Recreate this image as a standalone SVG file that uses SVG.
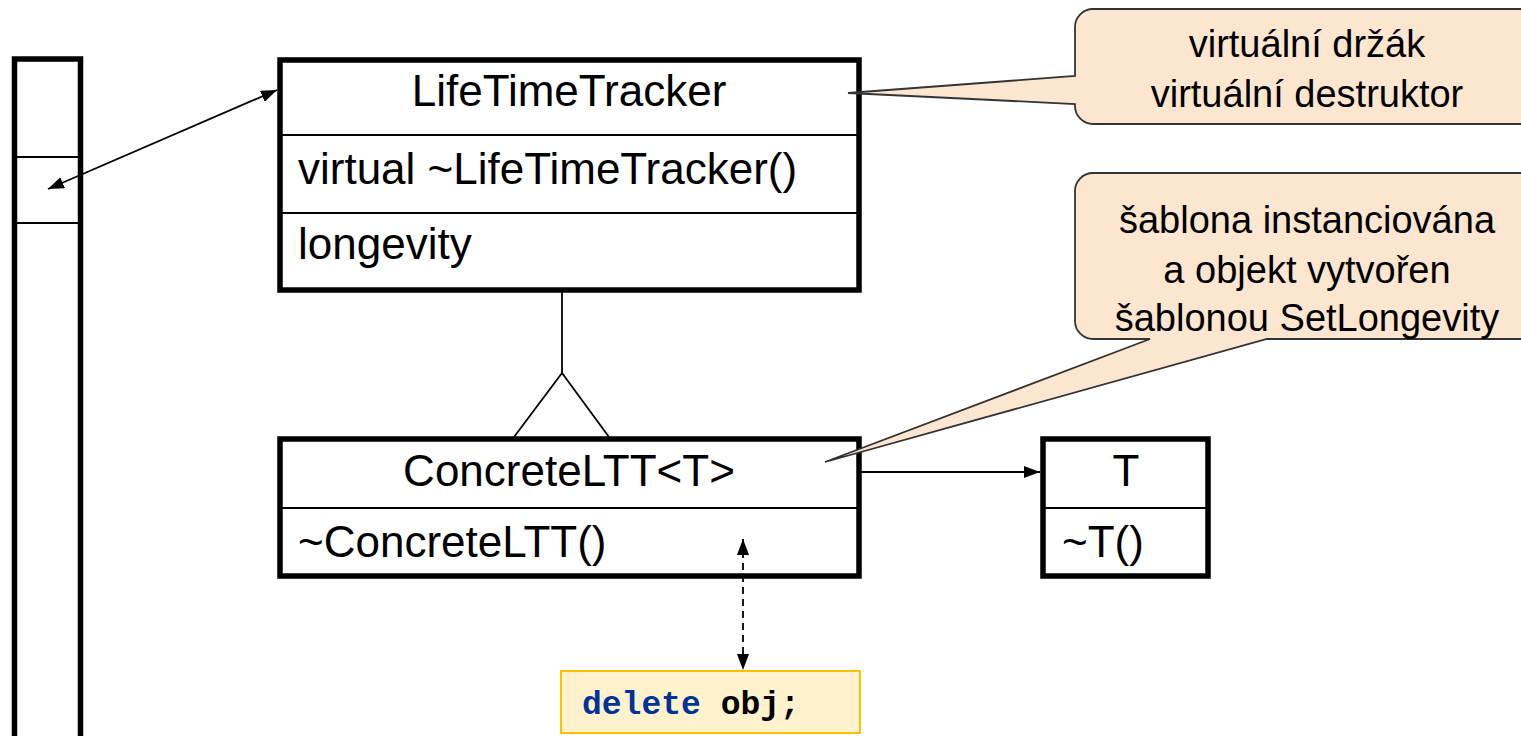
<svg xmlns="http://www.w3.org/2000/svg" width="1521" height="736" viewBox="0 0 1521 736">
  <style>
    .box { fill: #ffffff; stroke: #000000; stroke-width: 5.5; }
    .div { stroke: #000000; stroke-width: 2; }
    .thin { fill: none; stroke: #000000; stroke-width: 1.8; }
    .lbl { font-family: "Liberation Sans", Arial, sans-serif; font-size: 44px; fill: #000000; }
    .note { fill: #fde6cf; stroke: #333333; stroke-width: 1.8; }
    .ntxt { font-family: "Liberation Sans", Arial, sans-serif; font-size: 38px; fill: #000000; text-anchor: middle; }
    .code { font-family: "Liberation Mono", "Courier New", monospace; font-size: 33px; font-weight: bold; }
  </style>
  <defs>
    <marker id="arrow" viewBox="0 0 16 12" refX="16" refY="6" markerWidth="16" markerHeight="12" markerUnits="userSpaceOnUse" orient="auto-start-reverse">
      <path d="M0,0 L16,6 L0,12 Z" fill="#000000"/>
    </marker>
  </defs>

  <rect width="1521" height="736" fill="#ffffff"/>

  <!-- stack of pointers -->
  <g id="stack">
    <rect x="14.5" y="59" width="66" height="700" class="box"/>
    <line x1="17" y1="157" x2="78" y2="157" class="div"/>
    <line x1="17" y1="223" x2="78" y2="223" class="div"/>
  </g>

  <!-- classes -->
  <g id="lifetimetracker">
    <rect x="280" y="60" width="579" height="230" class="box"/>
    <line x1="282" y1="135" x2="857" y2="135" class="div"/>
    <line x1="282" y1="213" x2="857" y2="213" class="div"/>
    <text class="lbl" x="569" y="106" text-anchor="middle">LifeTimeTracker</text>
    <text class="lbl" x="298" y="184">virtual ~LifeTimeTracker()</text>
    <text class="lbl" x="298" y="259">longevity</text>
  </g>

  <g id="concreteltt">
    <rect x="280" y="439" width="579" height="137" class="box"/>
    <line x1="282" y1="508" x2="857" y2="508" class="div"/>
    <text class="lbl" x="569" y="486" text-anchor="middle">ConcreteLTT&lt;T&gt;</text>
    <text class="lbl" x="298" y="557">~ConcreteLTT()</text>
  </g>

  <g id="t-class">
    <rect x="1043" y="439" width="165" height="137" class="box"/>
    <line x1="1045" y1="508" x2="1206" y2="508" class="div"/>
    <text class="lbl" x="1126" y="486" text-anchor="middle">T</text>
    <text class="lbl" x="1062" y="557">~T()</text>
  </g>

  <g id="delete-code">
    <rect x="561" y="671" width="299" height="62" fill="#fff2cc" stroke="#ffc000" stroke-width="2"/>
    <text class="code" x="582" y="714"><tspan fill="#003399">delete</tspan><tspan fill="#000000"> obj;</tspan></text>
  </g>

  <!-- connectors -->
  <g id="connectors">
    <line x1="48" y1="189" x2="277" y2="90" class="thin" marker-start="url(#arrow)" marker-end="url(#arrow)"/>
    <line x1="562" y1="292" x2="562" y2="373" class="thin"/>
    <polyline points="514,437 562,373 609,437" class="thin"/>
    <line x1="860" y1="472" x2="1040" y2="472" class="thin" marker-end="url(#arrow)"/>
    <line x1="743" y1="539" x2="743" y2="670" class="thin" stroke-dasharray="7,5" marker-start="url(#arrow)" marker-end="url(#arrow)"/>
  </g>

  <!-- callouts, pointing into the class boxes -->
  <g id="note-holder">
    <path class="note" d="M1093,9 H1530 V124 H1093 A18,18 0 0 1 1075,106 V104 L848,93 L1075,76 V27 A18,18 0 0 1 1093,9 Z"/>
    <text class="ntxt" x="1307" y="57">virtuální držák</text>
    <text class="ntxt" x="1307" y="107">virtuální destruktor</text>
  </g>

  <g id="note-template">
    <path class="note" d="M1093,173 H1530 V339 H1267 L825,462 L1150,339 H1093 A18,18 0 0 1 1075,321 V191 A18,18 0 0 1 1093,173 Z"/>
    <text class="ntxt" x="1307" y="233">šablona instanciována</text>
    <text class="ntxt" x="1307" y="283">a objekt vytvořen</text>
    <text class="ntxt" x="1307" y="331">šablonou SetLongevity</text>
  </g>
</svg>
